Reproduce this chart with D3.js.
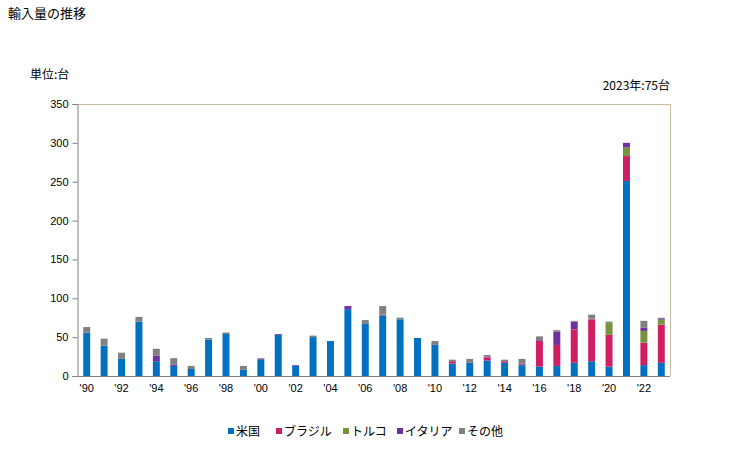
<!DOCTYPE html>
<html><head><meta charset="utf-8">
<script src="https://cdn.jsdelivr.net/npm/d3@7"></script>
<style>body{margin:0;background:#fff;}svg{display:block;font-family:"Noto Sans CJK JP","Noto Sans",sans-serif;}</style>
</head><body>
<script>
const years = d3.range(1990, 2024);
const usa    = [56,39,22,70,19,13,9,47,54,8,21,53,13,50,45,86,67,78,73,49,40,16,17,20,17,14,12,13,17,19,12,251,14,17];
const brazil = [0,0,0,0,0,0,0,0,0,0,0,0,0,0,0,0,0,1,0,0,0,3,0,4,2,1,33,27,43,54,41,32,29,49];
const turkey = [0,0,0,0,0,0,0,0,0,0,0,0,0,0,0,0,0,0,0,0,0,0,0,0,0,0,0,0,0,1,15,11,15,6];
const italy  = [0,0,0,0,7,2,0,0,0,0,1,1,1,0,0,4,0,0,0,0,0,0,0,1,0,1,1,17,10,0,0,6,4,1];
const other  = [7,9,8,6,9,8,4,2,2,5,1,0,0,2,0,0,5,11,2,0,5,2,5,2,2,6,5,2,1,5,2,0,9,2];
const seriesNames = ["米国","ブラジル","トルコ","イタリア","その他"];
const colors = ["#0070C0","#D01E62","#77933C","#7030A0","#808080"];
const yTicks = [0,50,100,150,200,250,300,350];

const W=729,H=450;
const m={l:78,r:670,t:104,b:376};
const svg=d3.select("body").append("svg").attr("width",W).attr("height",H);

const data = years.map((y,i)=>({year:y,"米国":usa[i],"ブラジル":brazil[i],"トルコ":turkey[i],"イタリア":italy[i],"その他":other[i]}));
const stack = d3.stack().keys(seriesNames)(data);

const x=d3.scaleBand().domain(years).range([m.l,m.r]).paddingInner(0.6).paddingOuter(0.3);
const y=d3.scaleLinear().domain([0,350]).range([m.b,m.t]);

// frame top/right
svg.append("line").attr("x1",m.l).attr("x2",m.r).attr("y1",m.t+0.5).attr("y2",m.t+0.5).attr("stroke","#C8BF9A");
svg.append("line").attr("x1",m.r+0.5).attr("x2",m.r+0.5).attr("y1",m.t).attr("y2",m.b).attr("stroke","#C8BF9A");

svg.append("g").selectAll("g").data(stack).join("g").attr("fill",(d,i)=>colors[i])
  .selectAll("rect").data(d=>d.map(v=>({v,year:v.data.year}))).join("rect")
  .attr("x",d=>x(d.year)).attr("width",x.bandwidth())
  .attr("y",d=>y(d.v[1])).attr("height",d=>Math.max(0,y(d.v[0])-y(d.v[1])));

// y axis
const ya=svg.append("g").attr("transform",`translate(${m.l-0.5},0)`)
  .call(d3.axisLeft(y).tickValues(yTicks).tickSize(5).tickPadding(4));
ya.select(".domain").attr("stroke","#808080");
ya.selectAll(".tick line").attr("stroke","#808080");
ya.selectAll("text").attr("font-size",11).attr("fill","#000").attr("font-family","'Liberation Sans',sans-serif");

// x axis
const xa=svg.append("g").attr("transform",`translate(0,${m.b+0.5})`)
  .call(d3.axisBottom(x).tickValues(years.filter(v=>v%2===0)).tickSize(0).tickPadding(8)
    .tickFormat(v=>"'"+String(v).slice(2)));
xa.select(".domain").attr("stroke","#808080").attr("d",`M${m.l},0H${m.r}`);
xa.selectAll("text").attr("font-size",11).attr("fill","#000").attr("font-family","'Liberation Sans',sans-serif");

svg.append("text").attr("x",8).attr("y",18).attr("font-size",13).text("輸入量の推移");
svg.append("text").attr("x",30).attr("y",79).attr("font-size",12).text("単位:台");
svg.append("text").attr("x",670).attr("y",90).attr("text-anchor","end").attr("font-size",12).text("2023年:75台");

// legend
const legX=[228,276,343,397,459];
const lg=svg.append("g");
seriesNames.forEach((n,i)=>{
  lg.append("rect").attr("x",legX[i]).attr("y",428).attr("width",6).attr("height",6).attr("fill",colors[i]);
  lg.append("text").attr("x",legX[i]+8).attr("y",436).attr("font-size",12).text(n);
});
</script>
</body></html>
